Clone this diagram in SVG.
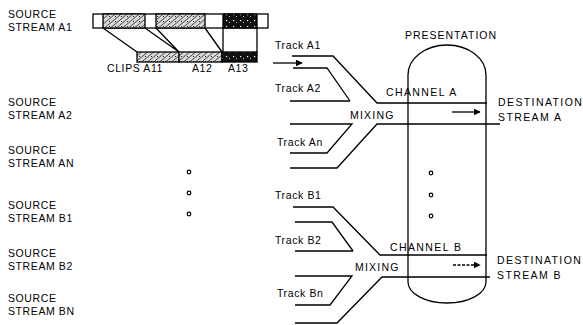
<svg xmlns="http://www.w3.org/2000/svg" width="583" height="325" viewBox="0 0 583 325">
<style>
text{font-family:"Liberation Sans",Arial,sans-serif;font-size:10.5px;fill:#000;letter-spacing:0.6px}
.wide{letter-spacing:1.4px}
.ln{fill:none;stroke:#000;stroke-width:1.3}
.bar{stroke:#000;stroke-width:1.3}
.dot{fill:#fff;stroke:#000;stroke-width:1.2}
</style>
<defs>
<pattern id="hatch" width="6" height="5" patternUnits="userSpaceOnUse">
<rect width="6" height="5" fill="#d8d8d8"/>
<path d="M0,5 L6,0" stroke="#333" stroke-width="0.9"/>
<rect x="1" y="1" width="1" height="1" fill="#222"/>
</pattern>
<pattern id="dark" width="7" height="6" patternUnits="userSpaceOnUse">
<rect width="7" height="6" fill="#111"/>
<rect x="2" y="2" width="1.2" height="1.2" fill="#fff"/>
<rect x="5" y="4" width="1" height="1" fill="#ccc"/>
</pattern>
<marker id="ah" viewBox="0 0 10 10" refX="9" refY="5" markerWidth="7" markerHeight="7" markerUnits="userSpaceOnUse" orient="auto">
<path d="M0,0 L10,5 L0,10 Z" fill="#000"/>
</marker>
</defs>

<g id="source-a1"><text x="8" y="18">SOURCE</text><text x="8" y="31">STREAM A1</text></g>
<g id="source-a2"><text x="8" y="106">SOURCE</text><text x="8" y="119">STREAM A2</text></g>
<g id="source-an"><text x="8" y="154">SOURCE</text><text x="8" y="167">STREAM AN</text></g>
<g id="source-b1"><text x="8" y="209">SOURCE</text><text x="8" y="222">STREAM B1</text></g>
<g id="source-b2"><text x="8" y="257">SOURCE</text><text x="8" y="270">STREAM B2</text></g>
<g id="source-bn"><text x="8" y="302">SOURCE</text><text x="8" y="315">STREAM BN</text></g>

<g id="stream-a1-bar">
<rect class="bar" x="93" y="14" width="175" height="14" fill="#fff"/>
<rect class="bar" x="103" y="14" width="42" height="14" fill="url(#hatch)"/>
<rect class="bar" x="156" y="14" width="49" height="14" fill="url(#hatch)"/>
<rect class="bar" x="223" y="14" width="34" height="14" fill="url(#dark)"/>
</g>

<g id="clips-bar">
<rect class="bar" x="137" y="52" width="42" height="10" fill="url(#hatch)"/>
<rect class="bar" x="179" y="52" width="43" height="10" fill="url(#hatch)"/>
<rect class="bar" x="222" y="52" width="35" height="10" fill="url(#dark)"/>
<text x="107" y="72">CLIPS A11</text>
<text x="192" y="72">A12</text>
<text x="228" y="72">A13</text>
</g>

<g id="dots-left">
<circle class="dot" cx="189" cy="172" r="1.8"/>
<circle class="dot" cx="189" cy="193" r="1.8"/>
<circle class="dot" cx="189" cy="214" r="1.8"/>
</g>

<g id="tracks-a">
<text x="275" y="49">Track A1</text>
<text x="275" y="92">Track A2</text>
<text x="277" y="146">Track An</text>
</g>
<g id="tracks-b">
<text x="275" y="199">Track B1</text>
<text x="275" y="244">Track B2</text>
<text x="277" y="297">Track Bn</text>
</g>

<g id="presentation">
<path class="ln" d="M408,282 V75 A39,30 0 0 1 486,75 V282 A39,21 0 0 1 408,282 Z"/>
<text x="451" y="39" text-anchor="middle" style="letter-spacing:1px">PRESENTATION</text>
<circle class="dot" cx="431" cy="173" r="1.8"/>
<circle class="dot" cx="431" cy="195" r="1.8"/>
<circle class="dot" cx="431" cy="216" r="1.8"/>
</g>

<g id="channel-a">
<text class="wide" x="386" y="96">CHANNEL A</text>
<text x="350" y="119" style="letter-spacing:1.2px">MIXING</text>
</g>
<g id="channel-b">
<text class="wide" x="390" y="251">CHANNEL B</text>
<text x="355" y="271" style="letter-spacing:1.2px">MIXING</text>
</g>

<g id="destination-a"><text class="wide" x="498" y="106">DESTINATION</text><text class="wide" x="498" y="121">STREAM A</text></g>
<g id="destination-b"><text class="wide" x="497" y="264">DESTINATION</text><text class="wide" x="497" y="279">STREAM B</text></g>

<g id="connectors">
<path class="ln" d="M103,28 L137,52 M145,28 L179,52 M156,28 L179,52 M205,28 L222,52 M223,28 V52 M257,28 V52"/>
<path class="ln" d="M273,63 H302" marker-end="url(#ah)"/>
<path class="ln" d="M292,56 H333 L377,103 H487"/>
<path class="ln" d="M293,68 H327 L350,101"/>
<path class="ln" d="M290,101 H350"/>
<path class="ln" d="M290,124 H352 L327,153 H290"/>
<path class="ln" d="M290,168 H337 L377,124 H500"/>
<path class="ln" d="M452,112 H480" marker-end="url(#ah)"/>
<path class="ln" d="M293,207 H333 L380,255 H487"/>
<path class="ln" d="M295,222 H332 L353,251"/>
<path class="ln" d="M295,251 H353"/>
<path class="ln" d="M295,276 H352 L330,305 H295"/>
<path class="ln" d="M295,323 H337 L382,277 H490"/>
<path class="ln" d="M453,265 H480" stroke-dasharray="3,1.5" marker-end="url(#ah)"/>
</g>
</svg>
